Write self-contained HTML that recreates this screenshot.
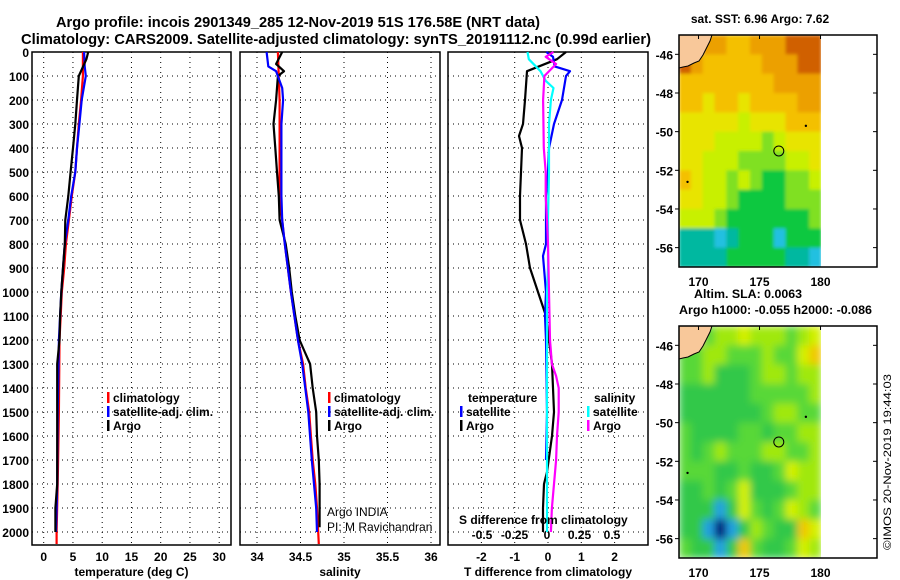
<!DOCTYPE html>
<html><head><meta charset="utf-8"><style>
html,body{margin:0;padding:0;background:#fff;}
svg{display:block;font-family:"Liberation Sans",sans-serif;font-weight:bold;}
</style></head><body>
<svg id="fig" width="900" height="580" viewBox="0 0 900 580" xmlns="http://www.w3.org/2000/svg">
<defs>
<filter id="blurS" x="0" y="0" width="1" height="1"><feGaussianBlur stdDeviation="1.5"/></filter>
<filter id="blurL" x="0" y="0" width="1" height="1"><feGaussianBlur stdDeviation="4"/></filter>
<clipPath id="clipTop"><rect x="679" y="35" width="142" height="232"/></clipPath>
<clipPath id="clipBot"><rect x="679" y="326" width="142" height="232"/></clipPath>
</defs>
<text x="298" y="27" text-anchor="middle" font-size="15" textLength="484" lengthAdjust="spacingAndGlyphs">Argo profile: incois 2901349_285 12-Nov-2019 51S 176.58E (NRT data)</text>
<text x="336" y="44" text-anchor="middle" font-size="15" textLength="630" lengthAdjust="spacingAndGlyphs">Climatology: CARS2009. Satellite-adjusted climatology: synTS_20191112.nc (0.99d earlier)</text>
<g id="plots"></g>
<g id="maps"></g>
<text x="760" y="23" text-anchor="middle" font-size="12">sat. SST: 6.96 Argo: 7.62</text>
<text x="694" y="298" font-size="12" textLength="108" lengthAdjust="spacingAndGlyphs">Altim. SLA: 0.0063</text>
<text x="679" y="314" font-size="12" textLength="193" lengthAdjust="spacingAndGlyphs">Argo h1000: -0.055 h2000: -0.086</text>
<text x="0" y="0" transform="translate(891,550) rotate(-90)" font-size="11" font-weight="normal" textLength="176" lengthAdjust="spacingAndGlyphs">©IMOS 20-Nov-2019 19:44:03</text>
</svg>
<script>
// ---- profile data ----
const tArgoDepth=[0,30,100,200,300,400,500,600,700,800,900,1000,1100,1200,1300,1500,1800,1900,2000];
const tArgoVal=[7.6,7.3,6.0,5.7,5.4,5.0,4.6,4.2,3.7,3.6,3.3,3.0,2.8,2.7,2.3,2.3,2.3,2.0,2.0];
const tClimDepth=[0,100,200,300,400,500,600,700,800,900,1000,1100,1200,1500,1800,2000,2050];
const tClimVal=[6.7,6.7,6.4,6.0,5.7,5.4,4.8,4.3,3.8,3.5,3.1,2.9,2.7,2.6,2.4,2.2,2.2];
const tSatDepth=[0,60,100,200,300,400,500,600,700,800,900,1000,1200,1500,1800,2000];
const tSatVal=[6.9,7.0,7.2,6.5,6.1,5.7,5.4,4.7,4.2,3.6,3.3,3.0,2.6,2.4,2.3,2.1];

const sArgoDepth=[0,50,80,100,200,300,400,500,600,700,800,900,1000,1100,1200,1250,1300,1400,1500,1600,1700,1800,1980];
const sArgoVal=[34.29,34.22,34.31,34.24,34.22,34.19,34.21,34.23,34.25,34.26,34.33,34.37,34.40,34.44,34.49,34.55,34.61,34.64,34.68,34.69,34.71,34.72,34.72];
const sClimDepth=[0,200,400,600,800,1000,1200,1300,1400,1500,1600,1700,1800,1900,2050];
const sClimVal=[34.24,34.26,34.26,34.26,34.32,34.39,34.47,34.53,34.56,34.60,34.62,34.64,34.67,34.69,34.71];
const sSatDepth=[0,60,80,150,200,300,500,600,700,800,1000,1200,1300,1500,1700,1900,2000];
const sSatVal=[34.11,34.13,34.22,34.29,34.30,34.28,34.28,34.28,34.29,34.32,34.39,34.47,34.52,34.59,34.63,34.68,34.69];

const dTArgoDepth=[0,30,80,200,300,350,400,500,600,700,800,900,1000,1050,1100,1200,1300,1400,1500,1600,1750,1800,1900,2000];
const dTArgoVal=[0.54,0.27,-0.63,-0.69,-0.75,-0.87,-0.78,-0.81,-0.84,-0.84,-0.66,-0.54,-0.30,-0.18,-0.06,0.03,0.12,0.15,0.18,0.12,-0.03,-0.12,-0.15,-0.15];
const dTSatDepth=[0,20,60,80,100,150,200,300,400,500,600,800,850,1000,1100,1200,1500,1700];
const dTSatVal=[-0.05,0.15,0.2,0.66,0.54,0.48,0.42,0.18,0.03,0.0,-0.06,-0.06,-0.15,-0.06,-0.09,-0.06,-0.03,-0.06];
const dSSatDepth=[0,30,80,120,150,200,300,500,700,900,1000,1500,2000];
const dSSatVal=[-0.15,-0.14,-0.05,-0.01,0.05,0.03,0.015,0.015,0.008,0.008,0.0,0.0,0.0];
const dSArgoDepth=[0,20,50,100,200,400,500,600,700,800,1000,1200,1300,1350,1400,1500,1600,1700,1800,1900,2000];
const dSArgoVal=[0.05,-0.01,0.07,-0.02,-0.03,-0.025,-0.01,-0.01,0.0,0.008,0.015,0.023,0.038,0.07,0.09,0.09,0.077,0.07,0.054,0.038,0.03];

const depthTicks=[0,100,200,300,400,500,600,700,800,900,1000,1100,1200,1300,1400,1500,1600,1700,1800,1900,2000];
const tTicks=[0,5,10,15,20,25,30];
const sTicks=[34,34.5,35,35.5,36];
const sTickLabels=["34","34.5","35","35.5","36"];
const dTTicks=[-2,-1,0,1,2];
const dSTicks=[-0.5,-0.25,0,0.25,0.5];
const dSTickLabels=["-0.5","-0.25","0","0.25","0.5"];

// ---- map data (coarse colour grids) ----
const sstRows=["LLOOooOOORRR","ROoooooOOORR","ooooooooOOOO","ooYooYooooOO","YYYYYyYYYooo","YYYyyyyGyYYY","YYyyyGGGGyyY","oYyyGyGggGGy","YYyyGggggGGG","yyyGgggggggG","TTTCTgggCggg","TTTTgggggTTC"];
const sstPalette={R:"#d06000",O:"#eca000",o:"#f4c000",Y:"#e8e400",y:"#c8f000",G:"#80e020",g:"#10c840",T:"#00b8a0",C:"#20c0e0",L:"#f8c89a"};
const slaRows=["LLGyyYyyyGyY","GGyyGGGyGGYO","GGygggGyyGyy","ggggggGGGGGy","gggggggGyyGG","GggggGGgGGyy","GgGyGGGyyGGy","GGGggGggGYyy","ggGgGYgggGyy","gggbgYGgGYyG","ggbDbgyGggOY","GggbgOGggGYy"];
const slaPalette={G:"#58d838",g:"#30c848",Y:"#d4f000",y:"#a0e810",O:"#f0c800",B:"#0058d8",b:"#20a0e0",D:"#001878",L:"#f8c89a"};
const lonTicks=[170,175,180];
const latTicks=[-46,-48,-50,-52,-54,-56];

const NS="http://www.w3.org/2000/svg";
function mk(tag,attrs,parent){const e=document.createElementNS(NS,tag);for(const k in attrs)e.setAttribute(k,attrs[k]);parent.appendChild(e);return e;}
const Y0=52, PY=0.24;
function yD(d){return Y0+d*PY;}
const plots=document.getElementById('plots');
const panels=[
 {name:"temperature",x0:32,x1:231,sx:v=>43.7+v*5.85,ticks:tTicks,labels:tTicks.map(String),title:"temperature (deg C)"},
 {name:"salinity",x0:240,x1:440,sx:v=>257+(v-34)*87,ticks:sTicks,labels:sTickLabels,title:"salinity"},
 {name:"difference",x0:448,x1:648,sx:v=>548+v*33.3,ticks:dTTicks,labels:dTTicks.map(String),title:"T difference from climatology"}
];
const sxS=v=>547+v*130;
panels.forEach((p,i)=>{
 const g=mk('g',{},plots);
 
 
 depthTicks.forEach(d=>{
  const l=mk('line',{x1:p.x0,x2:p.x1,y1:yD(d),y2:yD(d),stroke:"#000","stroke-width":1,"stroke-dasharray":"1,4"},g);
  
  
 });
 p.ticks.forEach((t,j)=>{
  const x=p.sx(t);
  const l=mk('line',{x1:x,x2:x,y1:Y0,y2:545,stroke:"#000","stroke-width":1,"stroke-dasharray":"1,4"},g);
  
  
  const tx=mk('text',{x:x,y:561,"text-anchor":"middle","font-size":12},g);
  tx.textContent=p.labels[j];
  
  
 });
 const fr=mk('rect',{x:p.x0,y:Y0,width:p.x1-p.x0,height:545-Y0,fill:"none",stroke:"#000","stroke-width":1.5},g);
 
 
 const at=mk('text',{x:(p.x0+p.x1)/2,y:576,"text-anchor":"middle","font-size":12},g);
 at.textContent=p.title;
 
 
});
depthTicks.forEach(d=>{
 const t=mk('text',{x:29,y:yD(d)+5,"text-anchor":"end","font-size":12},plots);
 t.textContent=String(d);
 
 
});
dSTicks.forEach((t,j)=>{
 const e=mk('text',{x:sxS(t),y:539,"text-anchor":"middle","font-size":12},plots);
 e.textContent=dSTickLabels[j];
 
 
});
function line(depths,vals,sx,color,name,w){
 const pts=depths.map((d,i)=>sx(vals[i]).toFixed(1)+","+yD(d).toFixed(1)).join(" ");
 const e=mk('polyline',{points:pts,fill:"none",stroke:color,"stroke-width":w||2.2,"stroke-linejoin":"round"},plots);
 
 
}
const P=panels;
line(tClimDepth,tClimVal,P[0].sx,"#f00","temp-climatology-line");
line(tSatDepth,tSatVal,P[0].sx,"#00f","temp-satellite-line");
line(tArgoDepth,tArgoVal,P[0].sx,"#000","temp-argo-line");
line(sClimDepth,sClimVal,P[1].sx,"#f00","sal-climatology-line");
line(sArgoDepth,sArgoVal,P[1].sx,"#000","sal-argo-line");
line(sSatDepth,sSatVal,P[1].sx,"#00f","sal-satellite-line");
line(dTArgoDepth,dTArgoVal,P[2].sx,"#000","tdiff-argo-line");
line(dTSatDepth,dTSatVal,P[2].sx,"#00f","tdiff-satellite-line");
line(dSSatDepth,dSSatVal,sxS,"#0ff","sdiff-satellite-line");
line(dSArgoDepth,dSArgoVal,sxS,"#f0f","sdiff-argo-line");

function legend(x,y,color,label,name){
 const r=mk('rect',{x:x,y:y-10,width:2.5,height:11,fill:color},plots);
 
 
 const t=mk('text',{x:x+6,y:y,"font-size":12},plots);
 t.textContent=label;
 
 
}
legend(107,402,"#f00","climatology","legend-temp-climatology");
legend(107,416,"#00f","satellite-adj. clim.","legend-temp-satellite");
legend(107,430,"#000","Argo","legend-temp-argo");
legend(328,402,"#f00","climatology","legend-sal-climatology");
legend(328,416,"#00f","satellite-adj. clim.","legend-sal-satellite");
legend(328,430,"#000","Argo","legend-sal-argo");
legend(460,416,"#00f","satellite","legend-tdiff-satellite");
legend(460,430,"#000","Argo","legend-tdiff-argo");
legend(587,416,"#0ff","satellite","legend-sdiff-satellite");
legend(587,430,"#f0f","Argo","legend-sdiff-argo");
[[468,402,"temperature","legend-temp-heading"],[594,402,"salinity","legend-sal-heading"],[459,524,"S difference from climatology","s-diff-axis-title"]].forEach(a=>{
 const t=mk('text',{x:a[0],y:a[1],"font-size":12},plots);
 t.textContent=a[2];
 
 
});
[[327,516,"Argo INDIA","argo-india-label"],[327,531,"PI: M Ravichandran","pi-label"]].forEach(a=>{
 const t=mk('text',{x:a[0],y:a[1],"font-size":12,"font-weight":"normal"},plots);
 t.textContent=a[2];
 
 
});

// ---- maps ----
const maps=document.getElementById('maps');
const MX0=679,MX1=877,DX1=821,LON0=168.4,PXLON=12.2,PXLAT=19.33;
function drawMap(top,rows,pal,name,blurId,clipId){
 const g=mk('g',{},maps);
 
 
 const cg=mk('g',{"clip-path":`url(#${clipId})`},g);
 const inner=mk('g',{filter:`url(#${blurId})`},cg);
 const cw=(DX1-MX0)/12, ch=(232)/12;
 rows.forEach((r,i)=>{for(let j=0;j<12;j++){
  const c=mk('rect',{x:(MX0+j*cw).toFixed(2),y:(top+i*ch).toFixed(2),width:(cw+0.6).toFixed(2),height:(ch+0.6).toFixed(2),fill:pal[r[j]]},inner);
  
  
 }});
 const land=mk('path',{d:`M${MX0},${top} L712,${top} L710,${top+6} L706,${top+14} L703,${top+20} L699,${top+26} L694,${top+28} L688,${top+31} L683,${top+32} L${MX0},${top+33} Z`,fill:"#f8c89a",stroke:"#000","stroke-width":1},g);
 
 
 const fr=mk('rect',{x:MX0,y:top,width:MX1-MX0,height:232,fill:"none",stroke:"#000","stroke-width":1.5},g);
 
 
 lonTicks.forEach(l=>{
  const x=MX0+(l-LON0)*PXLON;
  mk('line',{x1:x,x2:x,y1:top,y2:top+4,stroke:"#000"},g);
  const t=mk('text',{x:x,y:top+251,"text-anchor":"middle","font-size":12},g);
  t.textContent=String(l);
  
  
 });
 latTicks.forEach(l=>{
  const y=top+(-45-l)*PXLAT;
  mk('line',{x1:MX1-4,x2:MX1,y1:y,y2:y,stroke:"#000"},g);
  mk('line',{x1:MX0-4,x2:MX0,y1:y,y2:y,stroke:"#000"},g);
  const t=mk('text',{x:673,y:y+5,"text-anchor":"end","font-size":12},g);
  t.textContent=String(l);
  
  
 });
 const cx=MX0+(176.58-LON0)*PXLON, cy=top+6*PXLAT;
 const c=mk('circle',{cx:cx,cy:cy,r:5,fill:"none",stroke:"#000","stroke-width":1},g);
 
 
 mk('circle',{cx:MX0+(178.8-LON0)*PXLON,cy:top+4.7*PXLAT,r:1.2,fill:"#000"},g);
 mk('circle',{cx:MX0+(169.1-LON0)*PXLON,cy:top+7.6*PXLAT,r:1.2,fill:"#000"},g);
}
drawMap(35,sstRows,sstPalette,"sst-map","blurS","clipTop");
drawMap(326,slaRows,slaPalette,"sla-map","blurL","clipBot");
</script>
</body></html>
